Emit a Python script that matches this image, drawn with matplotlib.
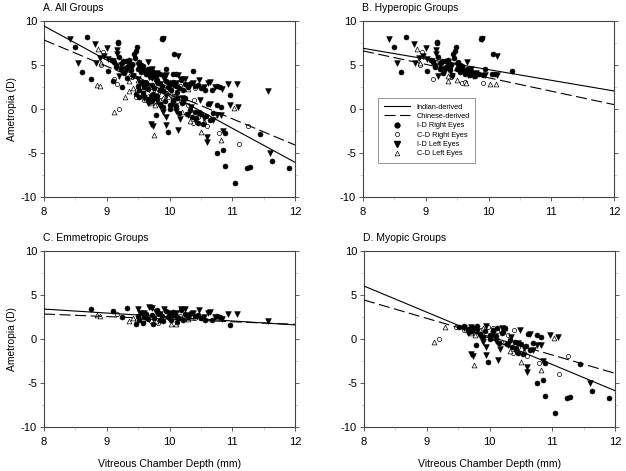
import matplotlib
matplotlib.use("Agg")
import matplotlib.pyplot as plt
from matplotlib.lines import Line2D
from matplotlib.ticker import MultipleLocator

plt.rcParams['font.family'] = ['Liberation Sans', 'DejaVu Sans']
plt.rcParams['axes.unicode_minus'] = False

# ---------------- data: Hyperopic group ----------------
hyp_id_right = [(8.49, 7.0), (8.6, 4.2), (8.69, 8.2), (9.02, 4.35), (9.08, 5.6), (9.12, 5.3), (9.15, 4.8),
                (9.18, 7.65), (9.18, 7.45), (9.2, 5.9), (9.22, 4.5), (9.25, 5.2), (9.28, 4.1), (9.3, 5.5),
                (9.33, 4.8), (9.35, 5.6), (9.38, 4.4), (9.4, 5.1), (9.42, 3.9), (9.44, 6.3), (9.45, 5.8),
                (9.46, 6.6), (9.48, 7.0), (9.5, 4.6), (9.52, 5.3), (9.55, 4.2), (9.58, 4.9), (9.6, 4.4),
                (9.63, 4.0), (9.66, 4.6), (9.7, 3.9), (9.72, 4.3), (9.75, 4.1), (9.78, 3.8), (9.85, 4.0),
                (9.88, 8.0), (9.9, 8.1), (9.92, 3.9), (9.95, 4.5), (10.05, 4.0), (10.07, 6.25), (10.1, 3.95),
                (10.37, 4.3), (9.14, 5.0), (9.26, 5.4), (9.36, 5.0), (9.54, 5.0), (9.68, 4.2)]
hyp_id_left = [(8.42, 8.0), (8.54, 5.2), (8.82, 7.35), (8.83, 5.25), (8.9, 5.8), (8.95, 6.0), (9.0, 6.9),
               (9.02, 5.7), (9.1, 5.5), (9.16, 6.3), (9.16, 6.7), (9.2, 3.75), (9.22, 5.0), (9.25, 4.6),
               (9.3, 4.3), (9.35, 5.3), (9.4, 4.8), (9.42, 3.8), (9.5, 5.0), (9.55, 4.5), (9.6, 4.2),
               (9.65, 5.35), (9.68, 3.9), (9.72, 4.5), (9.76, 3.7), (9.8, 4.1), (9.89, 8.0), (9.95, 3.9),
               (10.13, 3.85), (10.14, 6.0)]
hyp_cd_right = [(8.91, 5.0), (8.94, 6.45), (9.12, 3.4), (9.4, 3.6), (9.58, 2.95), (9.63, 3.1), (9.91, 3.0)]
hyp_cd_left = [(8.86, 6.8), (8.91, 5.2), (9.35, 3.2), (9.36, 3.75), (9.5, 3.35), (9.64, 3.0),
               (10.03, 2.85), (10.12, 2.85)]

# ---------------- data: Emmetropic group ----------------
emm_id_right = [(8.75, 3.4), (9.1, 3.2), (9.24, 2.5), (9.33, 3.55), (9.47, 1.75), (9.5, 2.6), (9.52, 2.2),
                (9.55, 3.0), (9.58, 1.8), (9.6, 2.5), (9.63, 2.8), (9.66, 2.3), (9.7, 3.6), (9.72, 2.7),
                (9.74, 1.7), (9.76, 2.4), (9.8, 3.3), (9.82, 2.9), (9.85, 2.2), (9.88, 2.6), (9.9, 2.0),
                (9.94, 3.2), (9.97, 2.5), (10.0, 2.8), (10.03, 2.2), (10.06, 3.1), (10.1, 2.6), (10.12, 1.9),
                (10.15, 2.4), (10.18, 3.3), (10.21, 2.15), (10.25, 2.8), (10.3, 2.5), (10.35, 2.9),
                (10.4, 2.6), (10.46, 2.7), (10.5, 2.4), (10.57, 2.15), (10.68, 2.15), (10.75, 2.6),
                (10.8, 2.45), (10.96, 1.6)]
emm_id_left = [(9.5, 3.4), (9.53, 3.0), (9.6, 2.9), (9.68, 3.6), (9.72, 3.5), (9.78, 3.1), (9.85, 2.8),
               (9.92, 3.4), (9.98, 3.0), (10.05, 2.7), (10.1, 3.0), (10.18, 3.4), (10.25, 3.4), (10.33, 2.7),
               (10.38, 2.9), (10.47, 3.3), (10.55, 2.5), (10.62, 3.0), (10.65, 3.1), (10.72, 2.5),
               (10.83, 2.3), (10.94, 2.85), (11.07, 2.85), (11.57, 2.05)]
emm_cd_right = [(9.16, 2.84), (9.48, 2.15), (9.64, 2.45), (9.7, 2.1), (9.82, 1.78), (9.9, 2.4), (10.0, 2.3),
                (10.17, 2.6), (10.4, 2.4)]
emm_cd_left = [(8.84, 2.73), (8.89, 2.6), (9.36, 2.1), (9.42, 2.35), (9.58, 2.25), (9.78, 2.1),
               (10.03, 1.67), (10.11, 1.67), (10.3, 2.3)]

# ---------------- data: Myopic group ----------------
myo_id_right = [(9.51, 1.4), (9.59, 1.5), (9.65, 1.1), (9.68, 0.8), (9.7, 1.3), (9.72, 0.9), (9.75, 1.2),
                (9.78, -0.7), (9.8, 1.5), (9.85, 0.6), (9.9, 0.2), (9.93, 0.9), (9.97, -2.65), (10.0, 0.5),
                (10.01, -0.04), (10.05, 1.0), (10.1, 0.3), (10.12, 1.2), (10.15, -0.4), (10.2, 0.7),
                (10.22, 0.83), (10.25, 1.3), (10.28, -0.6), (10.33, -0.1), (10.36, -0.9), (10.4, -0.3),
                (10.43, -1.0), (10.46, -1.55), (10.5, -0.6), (10.54, -1.74), (10.58, -0.8), (10.62, 0.53),
                (10.65, -1.2), (10.7, -0.5), (10.76, 0.42), (10.76, -4.96), (10.82, 0.27), (10.85, -4.66),
                (10.89, -2.76), (10.89, -6.44), (11.04, -8.45), (11.23, -6.74), (11.28, -6.63),
                (11.44, -2.88), (11.64, -5.9), (11.91, -6.74)]
myo_id_left = [(9.6, 1.2), (9.65, 0.7), (9.7, 1.4), (9.71, -1.7), (9.74, -1.9), (9.8, 0.9), (9.85, 0.3),
               (9.9, -0.3), (9.94, -0.95), (9.94, -1.8), (9.95, 1.48), (10.05, 0.6), (10.1, -0.2),
               (10.13, -2.4), (10.17, -1.17), (10.2, 1.2), (10.3, -0.7), (10.35, 0.2), (10.4, -1.2),
               (10.45, -0.4), (10.48, 1.0), (10.55, -1.0), (10.6, -3.14), (10.6, -3.7), (10.65, 0.6),
               (10.7, -1.3), (10.76, -0.68), (10.82, -0.68), (10.86, -2.46), (10.96, 0.45), (11.09, 0.27),
               (11.6, -4.96)]
myo_cd_right = [(9.2, -0.04), (9.47, 1.4), (9.6, 1.0), (9.75, 0.8), (9.87, 1.02), (9.98, 1.4), (10.05, 1.3),
                (10.12, 0.9), (10.23, 1.2), (10.3, 0.5), (10.39, 1.02), (10.38, -1.55), (10.45, -0.9),
                (10.6, -1.9), (10.79, -2.76), (11.1, -3.98), (11.25, -1.9)]
myo_cd_left = [(9.11, -0.3), (9.29, 1.33), (9.71, 0.72), (9.77, 0.45), (9.76, -2.95), (9.9, 1.3),
               (10.05, 0.2), (10.2, -0.3), (10.25, 1.3), (10.33, -1.33), (10.5, -2.65), (10.55, -1.4),
               (10.82, -3.5), (11.03, 0.08)]

# ---------------- regression lines (values at x = 8 and x = 12) ----------------
line_x = [8, 12]
all_indian = [9.43, -6.06]
all_chinese = [7.84, -4.09]
hyp_indian = [6.9, 2.05]
hyp_chinese = [6.6, 0.5]
emm_indian = [3.4, 1.6]
emm_chinese = [2.84, 1.67]
myo_indian = [6.02, -5.87]
myo_chinese = [4.43, -3.9]

titles = ["A. All Groups", "B. Hyperopic Groups", "C. Emmetropic Groups", "D. Myopic Groups"]
x_ticks = [8, 9, 10, 11, 12]
y_ticks = [-10, -5, 0, 5, 10]
xlabel = "Vitreous Chamber Depth (mm)"
ylabel = "Ametropia (D)"
legend_labels = ["Indian-derived", "Chinese-derived", "I-D Right Eyes", "C-D Right Eyes",
                 "I-D Left Eyes", "C-D Left Eyes"]

groups = {
    "hyp": (hyp_id_right, hyp_cd_right, hyp_id_left, hyp_cd_left, hyp_indian, hyp_chinese),
    "emm": (emm_id_right, emm_cd_right, emm_id_left, emm_cd_left, emm_indian, emm_chinese),
    "myo": (myo_id_right, myo_cd_right, myo_id_left, myo_cd_left, myo_indian, myo_chinese),
}
all_sets = tuple(sum((list(groups[g][i]) for g in ("hyp", "emm", "myo")), []) for i in range(4))
panel_data = [all_sets + (all_indian, all_chinese), groups["hyp"], groups["emm"], groups["myo"]]

fig = plt.figure(figsize=(6.26, 4.71), dpi=100)
positions = [
    [44 / 626, 1 - 197 / 471, 251 / 626, 176 / 471],
    [363 / 626, 1 - 197 / 471, 251 / 626, 176 / 471],
    [44 / 626, 1 - 427 / 471, 251 / 626, 176 / 471],
    [364 / 626, 1 - 427 / 471, 251 / 626, 176 / 471],
]

sty_filled_c = dict(marker='o', s=13, facecolors='black', edgecolors='black', linewidths=0.4, zorder=3)
sty_open_c = dict(marker='o', s=9, facecolors='white', edgecolors='black', linewidths=0.5, zorder=3)
sty_filled_t = dict(marker='v', s=17, facecolors='black', edgecolors='black', linewidths=0.4, zorder=3)
sty_open_t = dict(marker='^', s=12, facecolors='white', edgecolors='black', linewidths=0.5, zorder=3)
dash_pat = (10, 4)

for i, (pos, data) in enumerate(zip(positions, panel_data)):
    ax = fig.add_axes(pos)
    idr, cdr, idl, cdl, ind, chi = data
    ax.plot(line_x, ind, color='black', lw=0.8, zorder=4)
    ax.plot(line_x, chi, color='black', lw=0.8, dashes=dash_pat, zorder=4)
    for pts, sty in ((cdr, sty_open_c), (cdl, sty_open_t), (idr, sty_filled_c), (idl, sty_filled_t)):
        ax.scatter([p[0] for p in pts], [p[1] for p in pts], **sty)
    ax.set_xlim(8, 12)
    ax.set_ylim(-10, 10)
    ax.set_xticks(x_ticks)
    ax.set_yticks(y_ticks)
    ax.set_xticklabels([str(t) for t in x_ticks])
    ax.set_yticklabels([str(t) for t in y_ticks])
    ax.xaxis.set_minor_locator(MultipleLocator(0.5))
    ax.yaxis.set_minor_locator(MultipleLocator(2.5))
    ax.tick_params(which='major', direction='out', length=3, width=0.6, labelsize=8, color='#444444',
                   right=True)
    ax.tick_params(axis='x', which='major', pad=4.5)
    ax.tick_params(axis='y', which='major', pad=2)
    ax.tick_params(which='minor', direction='out', length=2, width=0.4, color='#bbbbbb', right=True)
    for sp in ax.spines.values():
        sp.set_color('#444444')
        sp.set_linewidth(0.8)
    ax.set_title(titles[i], loc='left', fontsize=7.5, pad=7, x=-0.005)
    if i in (0, 2):
        ax.set_ylabel(ylabel, fontsize=7.4, labelpad=3)
    if i in (2, 3):
        ax.set_xlabel(xlabel, fontsize=7.6, labelpad=8)
    if i == 1:
        handles = [
            Line2D([], [], color='black', lw=0.8),
            Line2D([], [], color='black', lw=0.8, dashes=dash_pat),
            Line2D([], [], ls='none', marker='o', ms=3.5, mfc='black', mec='black'),
            Line2D([], [], ls='none', marker='o', ms=3.0, mfc='white', mec='black', mew=0.5),
            Line2D([], [], ls='none', marker='v', ms=4.0, mfc='black', mec='black'),
            Line2D([], [], ls='none', marker='^', ms=3.4, mfc='white', mec='black', mew=0.5),
        ]
        leg = ax.legend(handles, legend_labels, loc='upper left', bbox_to_anchor=(0.06, 0.5625),
                        fontsize=5.3, frameon=True, fancybox=False, handlelength=3.6,
                        handletextpad=0.9, labelspacing=0.3, borderpad=0.75, borderaxespad=0)
        leg.get_frame().set_edgecolor('#666666')
        leg.get_frame().set_linewidth(0.6)

fig.savefig("out.png", dpi=100)
